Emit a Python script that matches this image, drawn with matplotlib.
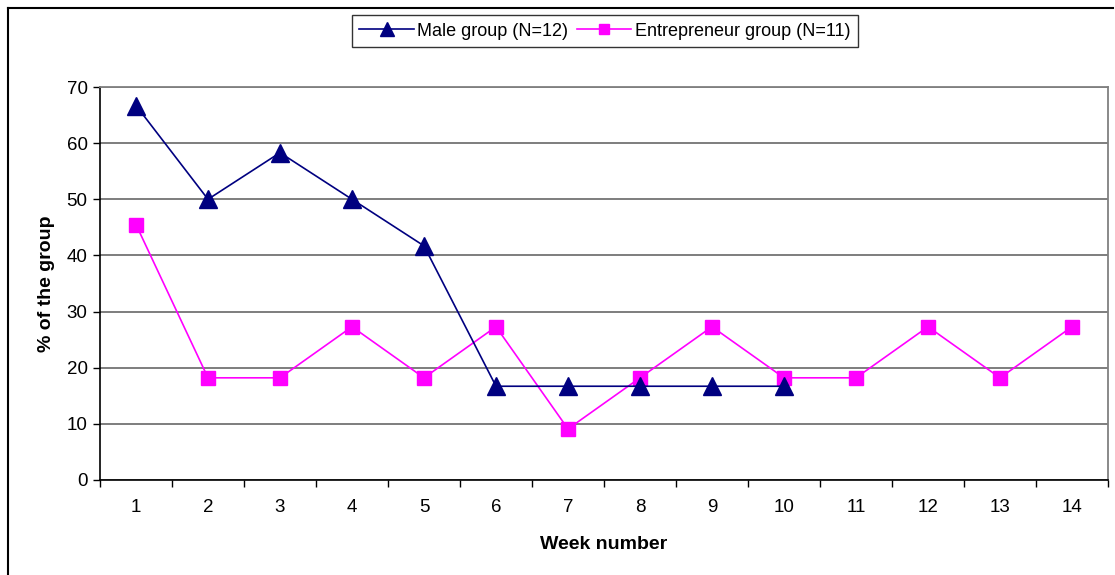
import matplotlib
matplotlib.use("Agg")
import matplotlib.pyplot as plt
from matplotlib.lines import Line2D
import numpy as np

plt.rcParams['font.family'] = ['Liberation Sans', 'DejaVu Sans']

weeks = list(range(1, 15))
male_pct = [66.7, 50.0, 58.3, 50.0, 41.7, 16.7, 16.7, 16.7, 16.7, 16.7]
entrepreneur_pct = [45.5, 18.2, 18.2, 27.3, 18.2, 27.3, 9.1, 18.2, 27.3, 18.2,
                    18.2, 27.3, 18.2, 27.3]
y_ticks = [0, 10, 20, 30, 40, 50, 60, 70]

navy = '#000080'
magenta = '#FF00FF'

W, H = 1115, 575
fig = plt.figure(figsize=(W / 100, H / 100), dpi=100)
ax = fig.add_axes([100 / W, 1 - 480 / H, (1108 - 100) / W, (480 - 87) / H])

ax.plot(weeks[:len(male_pct)], male_pct, color=navy, lw=1.2, marker='^',
        markersize=13.5, markerfacecolor=navy, markeredgecolor=navy,
        label='Male group (N=12)', zorder=4)
ax.plot(weeks, entrepreneur_pct, color=magenta, lw=1.2, marker='s',
        markersize=9.5, markerfacecolor=magenta, markeredgecolor=magenta,
        label='Entrepreneur group (N=11)', zorder=3)

ax.set_xlim(0.5, 14.5)
ax.set_ylim(0, 70)
ax.set_yticks(y_ticks)
ax.yaxis.grid(True, color='#5a5a5a', lw=1.1)
ax.set_axisbelow(True)

# category labels centred, tick marks on category boundaries
ax.set_xticks(weeks)
ax.set_xticklabels([str(w) for w in weeks])
ax.tick_params(axis='x', which='major', length=0, pad=14, labelsize=13.5)
ax.set_xticks(np.arange(0.5, 15, 1), minor=True)
ax.tick_params(axis='x', which='minor', length=5, width=1, color='black',
               direction='out')
ax.tick_params(axis='y', length=5, width=1, direction='out', labelsize=13.5, pad=4)

for side in ('left', 'bottom'):
    ax.spines[side].set_color('black')
    ax.spines[side].set_linewidth(1.2)
for side in ('top', 'right'):
    ax.spines[side].set_color('#808080')
    ax.spines[side].set_linewidth(1.3)

ax.set_xlabel('Week number', fontsize=14, fontweight='bold', labelpad=14)
ax.set_ylabel('% of the group', fontsize=14, fontweight='bold', labelpad=8)

leg = fig.legend(loc='center', bbox_to_anchor=(605 / W, 1 - 31 / H), ncol=2,
                 fontsize=13, frameon=True, fancybox=False, handlelength=3.0,
                 columnspacing=0.5, handletextpad=0.2, borderpad=0.4,
                 borderaxespad=0, markerscale=0.75)
leg.get_frame().set_edgecolor('black')
leg.get_frame().set_linewidth(1.0)

# outer chart frame
fig.add_artist(Line2D([8 / W, 8 / W], [0, 1 - 8 / H], transform=fig.transFigure,
                      color='black', lw=1.5))
fig.add_artist(Line2D([8 / W, 1113 / W], [1 - 8 / H, 1 - 8 / H],
                      transform=fig.transFigure, color='black', lw=1.5))

fig.savefig('out.png', dpi=100)
